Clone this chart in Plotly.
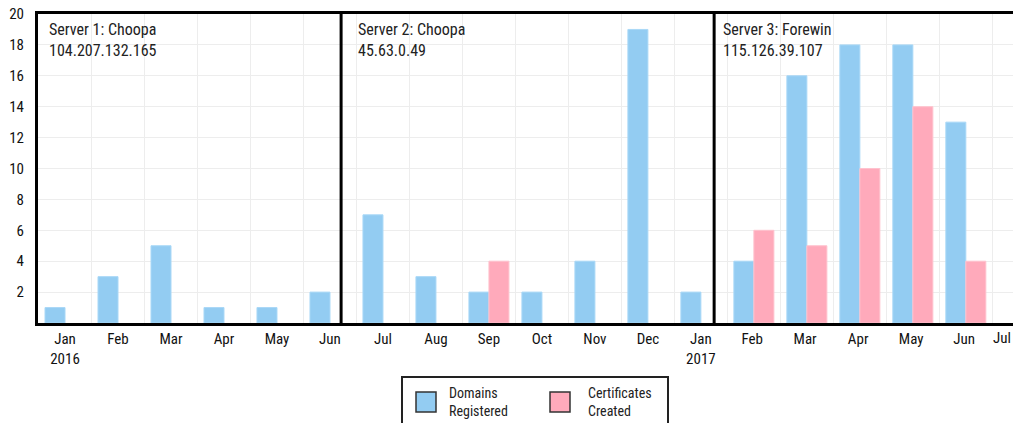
import plotly.graph_objects as go

# ---------------- data ----------------
months = ["Jan<br>2016", "Feb", "Mar", "Apr", "May", "Jun", "Jul", "Aug", "Sep", "Oct",
          "Nov", "Dec", "Jan<br>2017", "Feb ", "Mar ", "Apr ", "May ", "Jun ", "Jul "]
domains_registered = [1, 3, 5, 1, 1, 2, 7, 3, 2, 2, 4, 19, 2, 4, 16, 18, 18, 13, None]
certificates_created = [None, None, None, None, None, None, None, None, 4, None, None, None, None,
                        6, 5, 10, 14, 4, None]
servers = ["Server 1: Choopa<br>104.207.132.165",
           "Server 2: Choopa<br>45.63.0.49",
           "Server 3: Forewin<br>115.126.39.107"]
y_ticks = [2, 4, 6, 8, 10, 12, 14, 16, 18, 20]

# ---------------- layout constants ----------------
W, H = 1013, 423
ML, MR, MT, MB = 38, 0, 14, 100
PW, PH = W - ML - MR, H - MT - MB
FONT = "Roboto Condensed, Liberation Sans Narrow, Roboto, sans-serif"
BLUE, BLUE_EDGE = "#93CCF2", "#A9D8F7"
PINK, PINK_EDGE = "#FFAABB", "#FFC2CE"
x_range = [-0.51, 17.89]
dividers = [5.21, 12.25]          # server boundaries (category units)
title_x = [(x_range[0], 9), (dividers[0], 15), (dividers[1], 7)]


def px(x):
    return (x - ML) / PW


def py(y):
    return (H - MB - y) / PH


fig = go.Figure()
fig.add_trace(go.Bar(x=months, y=domains_registered, name="Domains Registered",
                     marker=dict(color=BLUE, line=dict(color=BLUE_EDGE, width=1)),
                     showlegend=False))
fig.add_trace(go.Bar(x=months, y=certificates_created, name="Certificates Created",
                     marker=dict(color=PINK, line=dict(color=PINK_EDGE, width=1)),
                     showlegend=False))

shapes = []
for d in dividers:
    shapes.append(dict(type="line", xref="x", yref="paper", x0=d, x1=d, y0=0, y1=1,
                       line=dict(color="black", width=3), layer="above"))

annotations = []
for (xv, shift), txt in zip(title_x, servers):
    annotations.append(dict(x=xv, y=1, xref="x", yref="paper", text=txt, showarrow=False,
                            xanchor="left", yanchor="top", align="left", xshift=shift, yshift=-4,
                            font=dict(family=FONT, size=16, color="#222")))

# last month label at the right edge
annotations.append(dict(x=px(1013), y=py(338), xref="paper", yref="paper", text=months[-1].strip(),
                        showarrow=False, xanchor="right", yanchor="middle",
                        font=dict(family=FONT, size=15, color="#111")))

# manual legend
shapes.append(dict(type="rect", xref="paper", yref="paper", x0=px(402), x1=px(668),
                   y0=py(377), y1=py(440), line=dict(color="#222", width=2),
                   fillcolor="white", layer="above"))
legend_items = [("Domains<br>Registered", BLUE, 416, 447), ("Certificates<br>Created", PINK, 550, 586)]
for txt, col, sx, tx in legend_items:
    shapes.append(dict(type="rect", xref="paper", yref="paper", x0=px(sx), x1=px(sx + 20),
                       y0=py(392), y1=py(412), line=dict(color="#333", width=1.5),
                       fillcolor=col, layer="above"))
    annotations.append(dict(x=px(tx), y=py(402), xref="paper", yref="paper", text=txt,
                            showarrow=False, xanchor="left", yanchor="middle", align="left",
                            font=dict(family=FONT, size=14, color="#222")))

fig.update_layout(
    width=W, height=H,
    margin=dict(l=ML, r=MR, t=MT, b=MB, autoexpand=False),
    plot_bgcolor="white", paper_bgcolor="white",
    barmode="group", bargap=0.245, bargroupgap=0.0,
    font=dict(family=FONT, size=15, color="#111"),
    shapes=shapes, annotations=annotations,
    xaxis=dict(type="category", categoryorder="array", categoryarray=months,
               range=x_range, tickson="boundaries", showgrid=True, gridcolor="#EDEDED",
               gridwidth=1, showline=True, linecolor="black", linewidth=3, mirror=True,
               ticks="", automargin=False,
               tickfont=dict(family=FONT, size=15, color="#111"), zeroline=False),
    yaxis=dict(range=[0, 20], tickvals=y_ticks, showgrid=True, gridcolor="#EDEDED",
               gridwidth=1, showline=True, linecolor="black", linewidth=3, mirror=False,
               ticks="outside", ticklen=8, tickcolor="white", automargin=False,
               tickfont=dict(family=FONT, size=15, color="#111"), zeroline=False),
)

fig.write_html("out.html", config={"displayModeBar": False},
               post_script="document.body.style.margin='0px';document.body.style.overflow='hidden';")
